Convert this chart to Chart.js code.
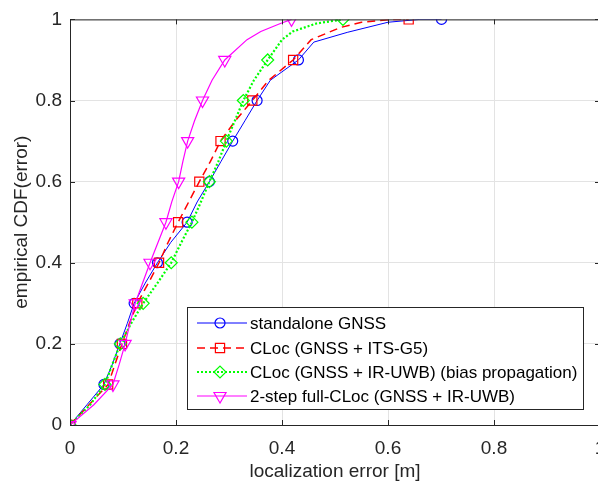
<!DOCTYPE html>
<html>
<head>
<meta charset="utf-8">
<script src="https://cdn.jsdelivr.net/npm/chart.js@4/dist/chart.umd.min.js"></script>
<style>
html, body { margin: 0; padding: 0; background: #fff; overflow: hidden; }
</style>
</head>
<body>
<canvas id="cdfChart" width="620" height="486"></canvas>
<script>
// localization error [m] at each empirical CDF level, per method
const gnssErr = [0, 0.032, 0.064, 0.080, 0.094, 0.108, 0.121, 0.142, 0.165, 0.190, 0.221, 0.240, 0.263, 0.285, 0.307, 0.330, 0.353, 0.378, 0.431, 0.460, 0.523, 0.600, 0.660, 0.701];
const gnssCdf = [0, 0.05, 0.1, 0.15, 0.2, 0.25, 0.3, 0.35, 0.4, 0.45, 0.5, 0.55, 0.6, 0.65, 0.7, 0.75, 0.8, 0.85, 0.9, 0.944, 0.968, 0.993, 1, 1];

const itsErr = [0, 0.036, 0.072, 0.085, 0.098, 0.112, 0.127, 0.148, 0.168, 0.185, 0.204, 0.224, 0.244, 0.265, 0.284, 0.312, 0.344, 0.375, 0.421, 0.455, 0.510, 0.550, 0.610, 0.639];
const itsCdf = [0, 0.05, 0.1, 0.15, 0.2, 0.25, 0.3, 0.35, 0.4, 0.45, 0.5, 0.55, 0.6, 0.65, 0.7, 0.75, 0.8, 0.85, 0.9, 0.95, 0.98, 0.993, 1, 1];

const uwbErr = [0, 0.038, 0.066, 0.080, 0.095, 0.115, 0.138, 0.165, 0.191, 0.210, 0.230, 0.247, 0.263, 0.280, 0.295, 0.311, 0.327, 0.347, 0.373, 0.400, 0.420, 0.465, 0.515];
const uwbCdf = [0, 0.05, 0.1, 0.15, 0.2, 0.25, 0.3, 0.35, 0.4, 0.45, 0.5, 0.55, 0.6, 0.65, 0.7, 0.75, 0.8, 0.85, 0.9, 0.95, 0.97, 0.99, 1];

const fullErr = [0, 0.045, 0.081, 0.093, 0.104, 0.113, 0.123, 0.137, 0.151, 0.166, 0.181, 0.192, 0.205, 0.213, 0.222, 0.235, 0.250, 0.268, 0.292, 0.334, 0.360, 0.397, 0.418];
const fullCdf = [0, 0.05, 0.1, 0.15, 0.2, 0.25, 0.3, 0.35, 0.4, 0.45, 0.5, 0.55, 0.6, 0.65, 0.7, 0.75, 0.8, 0.85, 0.9, 0.95, 0.97, 0.99, 1];

const seriesNames = [
  'standalone GNSS',
  'CLoc (GNSS + ITS-G5)',
  'CLoc (GNSS + IR-UWB) (bias propagation)',
  '2-step full-CLoc (GNSS + IR-UWB)'
];
const xTicks = [0, 0.2, 0.4, 0.6, 0.8, 1];
const xTickLabels = ['0', '0.2', '0.4', '0.6', '0.8', '1'];
const yTicks = [0, 0.2, 0.4, 0.6, 0.8, 1];
const yTickLabels = ['0', '0.2', '0.4', '0.6', '0.8', '1'];

const FONT = '"Liberation Sans", Arial, Helvetica, sans-serif';
const AXIS_COL = '#262626';

const toPts = (xs, ys) => xs.map((x, i) => ({ x: x, y: ys[i] }));
// markers only on the 0.1 steps (last point for the top), like MATLAB MarkerIndices
const markerAt = r => ctx => {
  const y = ctx.raw ? ctx.raw.y : 0;
  const n = ctx.dataset.data.length;
  if (y === 1 && ctx.dataIndex !== n - 1) return 0;
  return Math.abs(y * 10 - Math.round(y * 10)) < 1e-6 ? r : 0;
};

const styles = [
  { color: '#0000ff', width: 1,   dash: [],     point: 'circle',  radius: 5,   rot: 0 },
  { color: '#ff0000', width: 1.5, dash: [8, 5], point: 'rect',    radius: 6.5, rot: 0 },
  { color: '#00ff00', width: 2.2, dash: [2, 2], point: 'rectRot', radius: 6,   rot: 0 },
  { color: '#ff00ff', width: 1.2, dash: [],     point: 'triangle', radius: 7,  rot: 180 }
];
const pointSets = [toPts(gnssErr, gnssCdf), toPts(itsErr, itsCdf), toPts(uwbErr, uwbCdf), toPts(fullErr, fullCdf)];

const datasets = pointSets.map((pts, i) => ({
  label: seriesNames[i],
  data: pts,
  borderColor: styles[i].color,
  borderWidth: styles[i].width,
  borderDash: styles[i].dash,
  backgroundColor: 'rgba(0,0,0,0)',
  pointStyle: styles[i].point,
  pointRotation: styles[i].rot,
  pointRadius: markerAt(styles[i].radius),
  pointBorderWidth: 1.2,
  pointBorderColor: styles[i].color,
  pointBackgroundColor: 'rgba(0,0,0,0)',
  tension: 0,
  fill: false,
  order: 3 - i
}));

// frame, inward ticks and MATLAB style legend
const matlabDecor = {
  id: 'matlabDecor',
  afterDraw(chart) {
    const { ctx, chartArea: a, scales } = chart;
    ctx.save();
    ctx.strokeStyle = AXIS_COL;
    ctx.lineWidth = 1;
    ctx.setLineDash([]);
    ctx.strokeRect(a.left + 0.5, a.top + 0.5, a.right - a.left, a.bottom - a.top);
    const tl = 5;
    ctx.beginPath();
    xTicks.forEach(v => {
      const px = Math.round(scales.x.getPixelForValue(v)) + 0.5;
      ctx.moveTo(px, a.bottom); ctx.lineTo(px, a.bottom - tl);
      ctx.moveTo(px, a.top); ctx.lineTo(px, a.top + tl);
    });
    yTicks.forEach(v => {
      const py = Math.round(scales.y.getPixelForValue(v)) + 0.5;
      ctx.moveTo(a.left, py); ctx.lineTo(a.left + tl, py);
      ctx.moveTo(a.right, py); ctx.lineTo(a.right - tl, py);
    });
    ctx.stroke();

    // legend
    const bx = 187.5, by = 307.5, bw = 396, bh = 102;
    ctx.fillStyle = '#fff';
    ctx.fillRect(bx, by, bw, bh);
    ctx.strokeStyle = AXIS_COL;
    ctx.strokeRect(bx, by, bw, bh);
    const rows = [323, 348, 372, 396];
    ctx.font = '17px ' + FONT;
    ctx.textBaseline = 'middle';
    ctx.textAlign = 'left';
    seriesNames.forEach((name, i) => {
      const s = styles[i];
      const y = rows[i];
      ctx.strokeStyle = s.color;
      ctx.lineWidth = s.width;
      ctx.setLineDash(s.dash);
      ctx.beginPath();
      ctx.moveTo(197, y); ctx.lineTo(247, y);
      ctx.stroke();
      ctx.setLineDash([]);
      ctx.lineWidth = 1.2;
      ctx.fillStyle = 'rgba(0,0,0,0)';
      ctx.strokeStyle = s.color;
      Chart.helpers.drawPoint(ctx, { pointStyle: s.point, rotation: s.rot, radius: s.radius, borderWidth: 1.2 }, 220, y);
      ctx.fillStyle = '#000';
      ctx.fillText(name, 250, y + 1);
    });
    ctx.restore();
  }
};

new Chart(document.getElementById('cdfChart'), {
  type: 'line',
  data: { datasets: datasets },
  plugins: [matlabDecor],
  options: {
    responsive: false,
    animation: false,
    layout: { padding: { top: 12, right: 20, left: 0, bottom: 0 } },
    plugins: {
      legend: { display: false },
      tooltip: { enabled: false }
    },
    scales: {
      x: {
        type: 'linear',
        min: 0,
        max: 1,
        afterBuildTicks: s => { s.ticks = xTicks.map(v => ({ value: v })); },
        afterFit: s => { s.height = 61; },
        ticks: {
          callback: (v, i) => xTickLabels[i],
          color: AXIS_COL,
          font: { family: FONT, size: 19 },
          padding: 12,
          maxRotation: 0
        },
        grid: { color: '#e3e3e3', drawTicks: false },
        border: { display: false },
        title: {
          display: true,
          text: 'localization error [m]',
          color: AXIS_COL,
          font: { family: FONT, size: 19 },
          padding: { top: 4, bottom: 3 }
        }
      },
      y: {
        type: 'linear',
        min: 0,
        max: 1,
        afterBuildTicks: s => { s.ticks = yTicks.map(v => ({ value: v })); },
        afterFit: s => { s.width = 70; },
        ticks: {
          callback: (v, i) => yTickLabels[i],
          color: AXIS_COL,
          font: { family: FONT, size: 19 },
          padding: 8
        },
        grid: { color: '#e3e3e3', drawTicks: false },
        border: { display: false },
        title: {
          display: true,
          text: 'empirical CDF(error)',
          color: AXIS_COL,
          font: { family: FONT, size: 19 },
          padding: { top: 10, bottom: 4 }
        }
      }
    }
  }
});
</script>
</body>
</html>
